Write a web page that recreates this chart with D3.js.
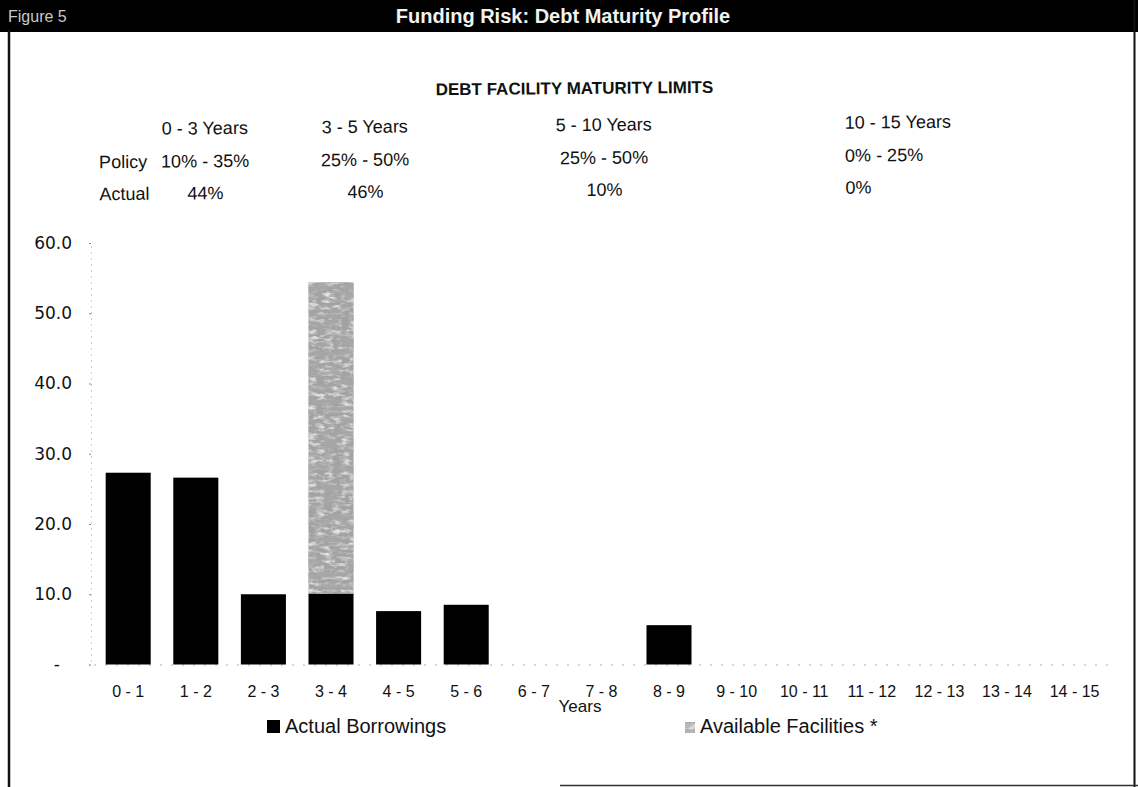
<!DOCTYPE html>
<html>
<head>
<meta charset="utf-8">
<script src="https://cdn.jsdelivr.net/npm/d3@7"></script>
<style>
  html, body { margin: 0; padding: 0; background: #fff; }
  svg { display: block; }
</style>
</head>
<body>
<svg id="chart" width="1138" height="787"></svg>
<script>
// Maturity buckets (years) and amounts
const categories = ["0 - 1","1 - 2","2 - 3","3 - 4","4 - 5","5 - 6","6 - 7","7 - 8",
  "8 - 9","9 - 10","10 - 11","11 - 12","12 - 13","13 - 14","14 - 15"];
const actualBorrowings = [27.3, 26.6, 10.0, 10.1, 7.6, 8.5, 0, 0, 5.6, 0, 0, 0, 0, 0, 0];
const availableFacilities = [0, 0, 0, 44.3, 0, 0, 0, 0, 0, 0, 0, 0, 0, 0, 0];
const yTicks = [0, 10, 20, 30, 40, 50, 60];

// Policy limits table shown above the bars
const limitBands = ["0 - 3 Years", "3 - 5 Years", "5 - 10 Years", "10 - 15 Years"];
const policyRanges = ["10% - 35%", "25% - 50%", "25% - 50%", "0% - 25%"];
const actualShares = ["44%", "46%", "10%", "0%"];

const W = 1138, H = 787;
const svg = d3.select("#chart");
const FONT = "'Liberation Sans', Arial, sans-serif";

// Mottled grey texture for the facilities series
const defs = svg.append("defs");
const f = defs.append("filter").attr("id", "mottle")
  .attr("x", 0).attr("y", 0).attr("width", 1).attr("height", 1);
f.append("feTurbulence").attr("type", "fractalNoise")
  .attr("baseFrequency", "0.05 0.14").attr("numOctaves", 4).attr("seed", 11).attr("result", "noise");
f.append("feColorMatrix").attr("in", "noise").attr("type", "matrix")
  .attr("values", "0 0 0 0 0.38  0 0 0 0 0.38  0 0 0 0 0.38  0 0 0 3.4 -1.35")
  .attr("result", "dark");
f.append("feTurbulence").attr("type", "fractalNoise")
  .attr("baseFrequency", "0.12 0.3").attr("numOctaves", 3).attr("seed", 23).attr("result", "noise2");
f.append("feColorMatrix").attr("in", "noise2").attr("type", "matrix")
  .attr("values", "0 0 0 0 0.8  0 0 0 0 0.8  0 0 0 0 0.8  0 0 0 2.6 -1.1")
  .attr("result", "light");
f.append("feComposite").attr("in", "dark").attr("in2", "SourceGraphic").attr("operator", "in").attr("result", "darkIn");
f.append("feComposite").attr("in", "light").attr("in2", "SourceGraphic").attr("operator", "in").attr("result", "lightIn");
const fm = f.append("feMerge");
fm.append("feMergeNode").attr("in", "SourceGraphic");
fm.append("feMergeNode").attr("in", "lightIn");
fm.append("feMergeNode").attr("in", "darkIn");

// Frame: black title bar and page rules
svg.append("rect").attr("x", 0).attr("y", 0).attr("width", W).attr("height", 32).attr("fill", "#000");
svg.append("line").attr("x1", 9).attr("x2", 9).attr("y1", 30).attr("y2", H)
  .attr("stroke", "#111").attr("stroke-width", 2.5);
svg.append("line").attr("x1", 1134.5).attr("x2", 1134.5).attr("y1", 0).attr("y2", H)
  .attr("stroke", "#111").attr("stroke-width", 2);
svg.append("line").attr("x1", 560).attr("x2", W).attr("y1", 785.5).attr("y2", 785.5)
  .attr("stroke", "#333").attr("stroke-width", 1.5);

svg.append("text").attr("x", 8).attr("y", 22)
  .attr("font-family", FONT).attr("font-size", 16).attr("fill", "#c8c8c8")
  .text("Figure 5");
svg.append("text").attr("x", 563).attr("y", 23).attr("text-anchor", "middle")
  .attr("font-family", FONT).attr("font-size", 20).attr("font-weight", "bold").attr("fill", "#f2f2f2")
  .text("Funding Risk: Debt Maturity Profile");

// Limits table
const hdr = svg.append("g").attr("font-family", FONT).attr("fill", "#111")
  .attr("transform", "rotate(-0.5, 575, 150)");
hdr.append("text").attr("x", 575).attr("y", 94).attr("text-anchor", "middle")
  .attr("font-size", 17).attr("font-weight", "bold").text("DEBT FACILITY MATURITY LIMITS");

const colX = [205, 365, 604, 845];
const colAnchor = ["middle", "middle", "middle", "start"];
const rowY = [131, 164, 196];
hdr.append("text").attr("x", 147).attr("y", rowY[1]).attr("text-anchor", "end")
  .attr("font-size", 18).text("Policy");
hdr.append("text").attr("x", 149).attr("y", rowY[2]).attr("text-anchor", "end")
  .attr("font-size", 18).text("Actual");
[limitBands, policyRanges, actualShares].forEach((row, r) => {
  hdr.selectAll(null).data(row).enter().append("text")
    .attr("x", (d, i) => colX[i]).attr("y", rowY[r])
    .attr("text-anchor", (d, i) => colAnchor[i]).attr("font-size", 18)
    .text(d => d);
});

// Scales
const x = d3.scaleBand().domain(categories).range([94.4, 1108.4])
  .paddingInner(0.334).paddingOuter(0.167);
const y = d3.scaleLinear().domain([0, 60]).range([664.5, 243]);

// Y axis: faint dotted rule with numeric labels, zero shown as a dash
const yAxis = svg.append("g").attr("transform", "translate(91,0)")
  .call(d3.axisLeft(y).tickValues(yTicks).tickSize(2).tickPadding(17)
    .tickFormat(d => d === 0 ? "-" : d3.format(".1f")(d)));
yAxis.select(".domain").attr("stroke", "#9a9a9a").attr("stroke-dasharray", "1 5");
yAxis.selectAll(".tick line").attr("stroke", "#888");
yAxis.selectAll(".tick text").attr("font-family", "'DejaVu Sans', sans-serif")
  .attr("font-size", 17).attr("fill", "#111")
  .attr("dx", d => d === 0 ? -12 : 0);

// Baseline
svg.append("line").attr("x1", 94).attr("x2", 1108).attr("y1", y(0) + 0.5).attr("y2", y(0) + 0.5)
  .attr("stroke", "#b0b0b0").attr("stroke-dasharray", "2 9");

// Bars: actual borrowings with available facilities stacked above
const bars = svg.append("g");
bars.selectAll("rect.actual").data(categories.map((c, i) => ({ c, v: actualBorrowings[i] })))
  .enter().filter(d => d.v > 0).append("rect").attr("class", "actual")
  .attr("x", d => x(d.c)).attr("width", x.bandwidth())
  .attr("y", d => y(d.v)).attr("height", d => y(0) - y(d.v))
  .attr("fill", "#000");
bars.selectAll("rect.avail")
  .data(categories.map((c, i) => ({ c, base: actualBorrowings[i], v: availableFacilities[i] })))
  .enter().filter(d => d.v > 0).append("rect").attr("class", "avail")
  .attr("x", d => x(d.c)).attr("width", x.bandwidth())
  .attr("y", d => y(d.base + d.v)).attr("height", d => y(d.base) - y(d.base + d.v))
  .attr("fill", "#a2a2a2").attr("filter", "url(#mottle)");

// X axis labels
const xAxis = svg.append("g").attr("transform", `translate(0,${y(0)})`)
  .call(d3.axisBottom(x).tickSize(0).tickPadding(21));
xAxis.select(".domain").remove();
xAxis.selectAll(".tick text").attr("font-family", FONT).attr("font-size", 16).attr("fill", "#111");

svg.append("text").attr("x", 580).attr("y", 712).attr("text-anchor", "middle")
  .attr("font-family", FONT).attr("font-size", 17).attr("fill", "#111").text("Years");

// Legend
const legend = svg.append("g").attr("font-family", FONT).attr("font-size", 20).attr("fill", "#111");
legend.append("rect").attr("x", 267).attr("y", 720).attr("width", 13).attr("height", 13).attr("fill", "#000");
legend.append("text").attr("x", 285).attr("y", 733).text("Actual Borrowings");
legend.append("rect").attr("x", 685).attr("y", 722).attr("width", 10).attr("height", 11)
  .attr("fill", "#b8b8b8").attr("filter", "url(#mottle)");
legend.append("text").attr("x", 700).attr("y", 733).text("Available Facilities *");
</script>
</body>
</html>
